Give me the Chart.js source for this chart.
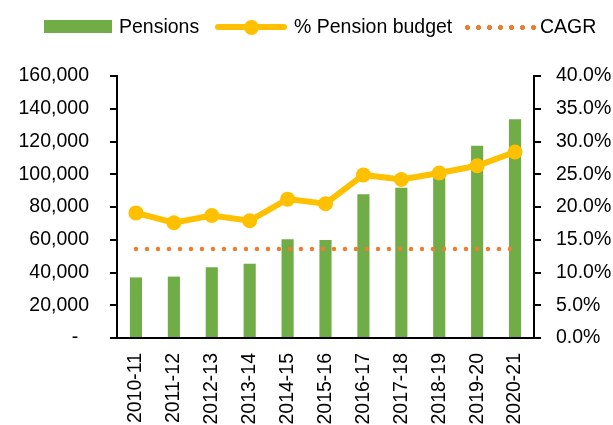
<!DOCTYPE html>
<html>
<head>
<meta charset="utf-8">
<script src="https://cdn.jsdelivr.net/npm/chart.js@4"></script>
<style>
  html, body { margin: 0; padding: 0; background: #fff; }
  #wrap { position: relative; width: 613px; height: 425px; font-family: 'Liberation Sans', Arial, sans-serif; }
  #chart { position: absolute; left: 0; top: 0; }
  .lg { position: absolute; font-size: 19.5px; color: #000; line-height: 1; top: 17px; white-space: nowrap; }
  .box { position: absolute; left: 44px; top: 20px; width: 68px; height: 13px; background: #70AD47; }
  .gline { position: absolute; left: 215px; top: 24px; width: 72px; height: 6px; background: #FFC000; border-radius: 3px; }
  .gdot { position: absolute; left: 244px; top: 19.5px; width: 15px; height: 15px; background: #FFC000; border-radius: 50%; }
  .dots { position: absolute; left: 462px; top: 25px; width: 74px; height: 5px;
          background-image: radial-gradient(circle, #ED7D31 2.3px, transparent 2.6px);
          background-size: 11px 5px; background-repeat: repeat-x; }
</style>
</head>
<body>
<div id="wrap">
  <canvas id="chart" width="613" height="425"></canvas>
  <div class="box"></div>
  <div class="lg" style="left:119px">Pensions</div>
  <div class="gline"></div>
  <div class="gdot"></div>
  <div class="lg" style="left:294px">% Pension budget</div>
  <div class="dots"></div>
  <div class="lg" style="left:540px">CAGR</div>
</div>
<script>
const categories = ['2010-11', '2011-12', '2012-13', '2013-14', '2014-15', '2015-16',
                    '2016-17', '2017-18', '2018-19', '2019-20', '2020-21'];
const pensions = [37000, 37500, 43200, 45400, 60300, 59900, 87800, 91800, 100500, 117400, 133600];
const pensionBudgetPct = [19.1, 17.6, 18.7, 17.9, 21.2, 20.5, 24.9, 24.2, 25.2, 26.3, 28.4];
const cagr = [13.6, 13.6, 13.6, 13.6, 13.6, 13.6, 13.6, 13.6, 13.6, 13.6, 13.6];
const leftTicks = { min: 0, max: 160000, step: 20000 };
const rightTicks = { min: 0, max: 40, step: 5 };

const font = { family: "'Liberation Sans', Arial, sans-serif", size: 19.5 };
const ctx = document.getElementById('chart').getContext('2d');

new Chart(ctx, {
    data: {
        labels: categories,
        datasets: [
            {
                type: 'line',
                label: '% Pension budget',
                data: pensionBudgetPct,
                yAxisID: 'y1',
                borderColor: '#FFC000',
                backgroundColor: '#FFC000',
                borderWidth: 6,
                pointRadius: 7.5,
                pointHoverRadius: 7.5,
                pointBorderWidth: 0,
                order: 1
            },
            {
                type: 'line',
                label: 'CAGR',
                data: cagr,
                yAxisID: 'y1',
                borderColor: '#ED7D31',
                borderWidth: 4.5,
                borderDash: [0, 11],
                borderCapStyle: 'round',
                pointRadius: 0,
                order: 2
            },
            {
                type: 'bar',
                label: 'Pensions',
                data: pensions,
                yAxisID: 'y',
                backgroundColor: '#70AD47',
                barPercentage: 0.32,
                categoryPercentage: 1,
                order: 3
            }
        ]
    },
    options: {
        responsive: false,
        animation: false,
        layout: { padding: { top: 76, left: 0, right: 0, bottom: 0 } },
        plugins: {
            legend: { display: false },
            tooltip: { enabled: false }
        },
        scales: {
            x: {
                grid: { display: false, drawTicks: false },
                border: { display: true, color: '#000', width: 2 },
                ticks: { color: '#000', font: font, maxRotation: 90, minRotation: 90, padding: 15 },
                afterFit: (s) => { s.height = 87; }
            },
            y: {
                position: 'left',
                min: leftTicks.min,
                max: leftTicks.max,
                grid: { drawOnChartArea: false, tickLength: 7, color: '#000', lineWidth: 2 },
                border: { display: true, color: '#000', width: 2 },
                ticks: {
                    stepSize: leftTicks.step,
                    color: '#000',
                    font: font,
                    padding: 21,
                    callback: (v) => v === 0 ? '-  ' : v.toLocaleString('en-US')
                },
                afterFit: (s) => { s.width = 117; }
            },
            y1: {
                position: 'right',
                min: rightTicks.min,
                max: rightTicks.max,
                grid: { drawOnChartArea: false, tickLength: 7, color: '#000', lineWidth: 2 },
                border: { display: true, color: '#000', width: 2 },
                ticks: {
                    stepSize: rightTicks.step,
                    color: '#000',
                    font: font,
                    padding: 15,
                    callback: (v) => v.toFixed(1) + '%'
                },
                afterFit: (s) => { s.width = 79; }
            }
        }
    }
});
</script>
</body>
</html>
